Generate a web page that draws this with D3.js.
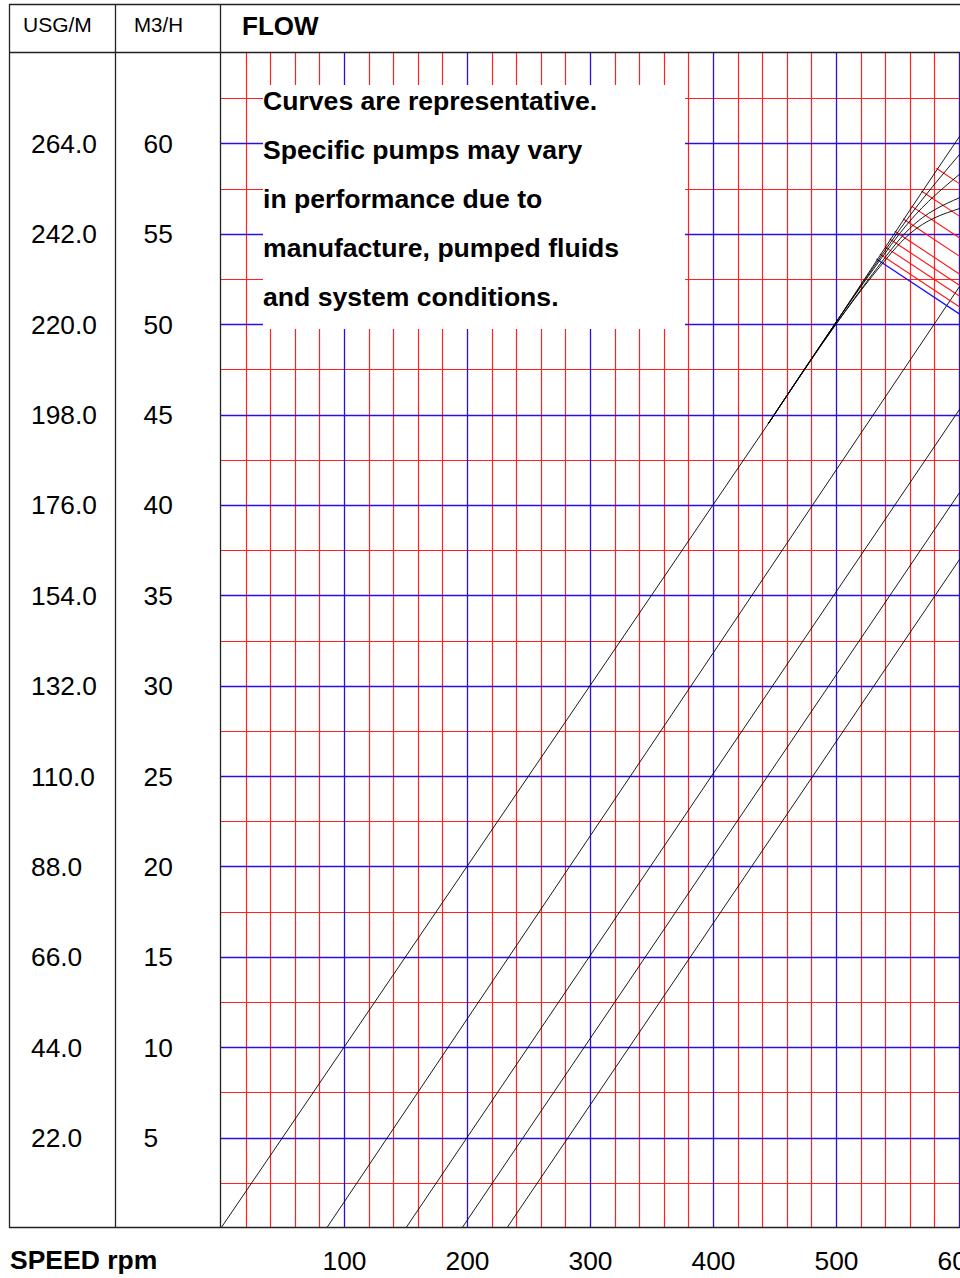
<!DOCTYPE html>
<html>
<head>
<meta charset="utf-8">
<script src="https://cdn.jsdelivr.net/npm/d3@7"></script>
<style>
  html, body { margin: 0; padding: 0; background: #fff; overflow: hidden; }
  svg { display: block; font-family: "Liberation Sans", Arial, sans-serif; }
</style>
</head>
<body>
<svg id="chart" width="960" height="1278"></svg>
<script>
// ---------- DATA ----------
const speedTicks = [100, 200, 300, 400, 500, 600];
const m3hTicks = [5, 10, 15, 20, 25, 30, 35, 40, 45, 50, 55, 60];
const usgLabels = ["22.0", "44.0", "66.0", "88.0", "110.0", "132.0", "154.0", "176.0", "198.0", "220.0", "242.0", "264.0"];
const noteLines = [
  "Curves are representative.",
  "Specific pumps may vary",
  "in performance due to",
  "manufacture, pumped fluids",
  "and system conditions."
];
// straight speed/flow lines: [speed, flow] pairs
const lineL1 = [[0, 0], [445, 44.5]];
const lineL2 = [[85.9, 0], [600.6, 52.1]];
const lineL3 = [[150.3, 0], [600.6, 45.3]];
const lineL4 = [[195.9, 0], [600.6, 40.7]];
const lineL5 = [[232.4, 0], [600.6, 37.0]];
// bundle curves (speeds shared)
const bundleSpeeds = [445, 500, 530, 560, 600.6];
const bundleA = [44.5, 50.1, 53.2, 56.3, 60.4];
const bundleB = [44.5, 50.1, 53.1, 56.0, 59.4];
const bundleC = [44.5, 50.1, 53.0, 55.7, 58.3];
const bundleD = [44.5, 50.0, 52.8, 55.3, 57.0];
const bundleE = [44.5, 50.0, 52.7, 55.0, 56.4];
// red iso lines: start speed, start flow, end flow (at right edge speed 600.6)
const isoStartSpeed = [581.6, 569.4, 561.3, 554.5, 547.8, 543.7, 539.6, 535.6];
const isoStartFlow  = [58.62, 57.37, 56.53, 55.83, 55.14, 54.71, 54.29, 53.88];
const isoEndFlow    = [57.76, 55.96, 54.76, 53.75, 52.76, 52.14, 51.54, 50.95];
const isoEndSpeed = 600.6;
// blue limit line
const blueLine = [[532.9, 53.6], [600.6, 50.55]];

// ---------- LAYOUT ----------
const svg = d3.select("#chart");
const plotL = 221, plotR = 960, plotT = 53, plotB = 1228;
const x = d3.scaleLinear().domain([0, 600]).range([221, 959]);
const y = d3.scaleLinear().domain([0, 65]).range([plotB, plotT]);
const FONT = '"Liberation Sans", Arial, sans-serif';

svg.append("rect").attr("width", 960).attr("height", 1278).attr("fill", "#fff");

const defs = svg.append("defs");
defs.append("clipPath").attr("id", "plotclip")
  .append("rect").attr("x", plotL).attr("y", plotT).attr("width", plotR - plotL).attr("height", plotB - plotT);

const g = svg.append("g").attr("clip-path", "url(#plotclip)");

// grid
const vSpeeds = d3.range(20, 620, 20);
const hFlows = d3.range(2.5, 65, 2.5);
const isMajorV = s => Math.round(s) % 100 === 0;
const isMajorH = f => Math.abs(f % 5) < 1e-6;

g.selectAll(".vred").data(vSpeeds.filter(s => !isMajorV(s))).join("line")
  .attr("x1", d => Math.round(x(d)) + 0.5).attr("x2", d => Math.round(x(d)) + 0.5)
  .attr("y1", plotT).attr("y2", plotB)
  .attr("stroke", "#ff2020").attr("stroke-width", 1.2);
g.selectAll(".hred").data(hFlows.filter(f => !isMajorH(f))).join("line")
  .attr("y1", d => Math.round(y(d)) + 0.5).attr("y2", d => Math.round(y(d)) + 0.5)
  .attr("x1", plotL).attr("x2", plotR)
  .attr("stroke", "#ff2020").attr("stroke-width", 1.2);
g.selectAll(".vblue").data(vSpeeds.filter(isMajorV)).join("line")
  .attr("x1", d => Math.round(x(d)) + 0.5).attr("x2", d => Math.round(x(d)) + 0.5)
  .attr("y1", plotT).attr("y2", plotB)
  .attr("stroke", "#2a10e0").attr("stroke-width", 1.3);
g.selectAll(".hblue").data(hFlows.filter(isMajorH)).join("line")
  .attr("y1", d => Math.round(y(d)) + 0.5).attr("y2", d => Math.round(y(d)) + 0.5)
  .attr("x1", plotL).attr("x2", plotR)
  .attr("stroke", "#2a10e0").attr("stroke-width", 1.3);

// curves
const lineGen = d3.line().x(d => x(d[0])).y(d => y(d[1]));
const curveGen = d3.line().x(d => x(d[0])).y(d => y(d[1])).curve(d3.curveMonotoneX);

[lineL1, lineL2, lineL3, lineL4, lineL5].forEach(L => {
  g.append("path").attr("d", lineGen(L)).attr("fill", "none")
    .attr("stroke", "#000").attr("stroke-width", 0.9);
});

// iso red lines
isoStartSpeed.forEach((s, i) => {
  g.append("path").attr("d", lineGen([[s, isoStartFlow[i]], [isoEndSpeed, isoEndFlow[i]]]))
    .attr("fill", "none").attr("stroke", "#ff1010").attr("stroke-width", 1.1);
});
g.append("path").attr("d", lineGen(blueLine)).attr("fill", "none")
  .attr("stroke", "#1010ff").attr("stroke-width", 1.3);

[bundleA, bundleB, bundleC, bundleD, bundleE].forEach(B => {
  const pts = bundleSpeeds.map((s, i) => [s, B[i]]);
  g.append("path").attr("d", curveGen(pts)).attr("fill", "none")
    .attr("stroke", "#000").attr("stroke-width", 0.9);
});

// note box
svg.append("rect").attr("x", 263).attr("y", 85).attr("width", 422).attr("height", 244).attr("fill", "#fff");
svg.append("g").selectAll("text").data(noteLines).join("text")
  .attr("x", 263).attr("y", (d, i) => 110 + i * 49)
  .attr("font-family", FONT).attr("font-weight", "bold").attr("font-size", 26.6)
  .attr("fill", "#000").text(d => d);

// frame
const frame = svg.append("g").attr("stroke", "#222").attr("stroke-width", 1.3).attr("fill", "none");
frame.append("line").attr("x1", 9).attr("x2", 960).attr("y1", 4.5).attr("y2", 4.5);
frame.append("line").attr("x1", 9).attr("x2", 960).attr("y1", 52.5).attr("y2", 52.5);
frame.append("line").attr("x1", 9).attr("x2", 960).attr("y1", 1227.5).attr("y2", 1227.5);
[9.5, 115.5, 220.5].forEach(xx => {
  frame.append("line").attr("x1", xx).attr("x2", xx).attr("y1", 4).attr("y2", 1228);
});

// headers
svg.append("text").attr("x", 23).attr("y", 31.5).attr("font-family", FONT)
  .attr("font-size", 21).text("USG/M");
svg.append("text").attr("x", 134).attr("y", 31.5).attr("font-family", FONT)
  .attr("font-size", 20.5).text("M3/H");
svg.append("text").attr("x", 242).attr("y", 34.5).attr("font-family", FONT)
  .attr("font-weight", "bold").attr("font-size", 26).text("FLOW");

// y labels
svg.append("g").selectAll("text").data(m3hTicks).join("text")
  .attr("x", 31).attr("y", d => y(d) + 9.5)
  .attr("font-family", FONT).attr("font-size", 26.3)
  .text((d, i) => usgLabels[i]);
svg.append("g").selectAll("text").data(m3hTicks).join("text")
  .attr("x", 143.5).attr("y", d => y(d) + 9.5)
  .attr("font-family", FONT).attr("font-size", 26.3)
  .text(d => d);

// x axis labels
const xAxis = d3.axisBottom(x).tickValues(speedTicks).tickSize(0).tickPadding(0);
const ax = svg.append("g").attr("transform", `translate(0, ${plotB})`).call(xAxis);
ax.select(".domain").remove();
ax.selectAll("text").attr("font-family", FONT).attr("font-size", 26.3)
  .attr("fill", "#000").attr("dy", null).attr("y", 41.5);

svg.append("text").attr("x", 10).attr("y", 1268.5).attr("font-family", FONT)
  .attr("font-weight", "bold").attr("font-size", 26.5).text("SPEED rpm");
</script>
</body>
</html>
